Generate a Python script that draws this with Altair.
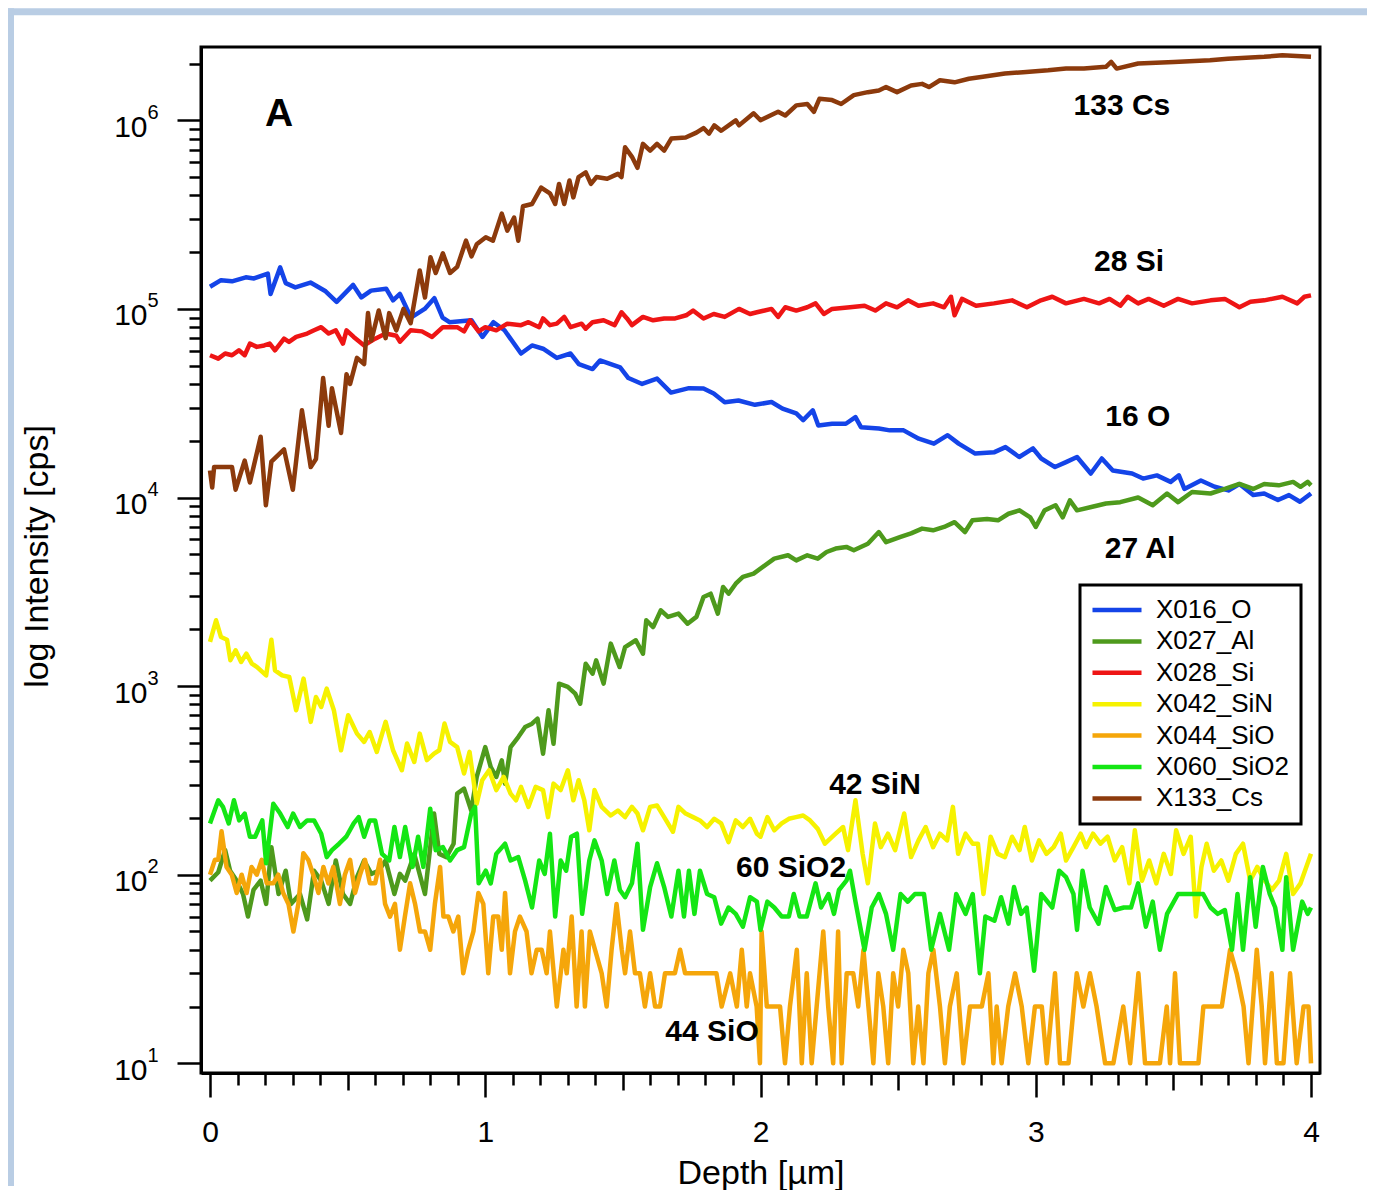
import altair as alt
import pandas as pd

FONT = "Liberation Sans, Arial, Helvetica, sans-serif"
BLUE_FRAME = "#b9cde4"

SERIES_NAMES = ["X016_O", "X027_Al", "X028_Si", "X042_SiN", "X044_SiO", "X060_SiO2", "X133_Cs"]
SERIES_COLORS = ["#1444e8", "#4e9a1c", "#ee1515", "#f6f200", "#f5a60a", "#14e614", "#8c3a0c"]

# (depth [um], intensity [cps])
O_16 = [(0.000, 131000), (0.040, 142000), (0.080, 140000), (0.130, 147000), (0.160, 145000), (0.210, 154000),
        (0.220, 120000), (0.255, 166000), (0.275, 137000), (0.310, 130000), (0.365, 138000), (0.420, 124000),
        (0.460, 109000), (0.520, 134000), (0.550, 115000), (0.585, 125000), (0.640, 128000), (0.665, 111000),
        (0.690, 120000), (0.730, 90000), (0.780, 100000), (0.815, 114000), (0.845, 90000), (0.870, 85000),
        (0.950, 87000), (0.990, 71000), (1.030, 85000), (1.070, 77000), (1.130, 58000), (1.170, 64000),
        (1.210, 61500), (1.260, 55000), (1.310, 58000), (1.340, 51000), (1.390, 48000), (1.417, 53300),
        (1.490, 49000), (1.520, 43000), (1.570, 40000), (1.624, 42700), (1.675, 36000), (1.740, 38000),
        (1.793, 37800), (1.830, 35600), (1.870, 32000), (1.920, 32700), (1.980, 31000), (2.040, 32100),
        (2.080, 29600), (2.130, 27900), (2.155, 25700), (2.190, 29000), (2.210, 24100), (2.260, 24600),
        (2.310, 24600), (2.345, 26700), (2.365, 23600), (2.430, 23200), (2.470, 22700), (2.520, 22700),
        (2.575, 20500), (2.630, 19300), (2.680, 21400), (2.720, 19300), (2.780, 17100), (2.850, 17400),
        (2.890, 18500), (2.940, 16400), (2.990, 18200), (3.020, 16100), (3.070, 14500), (3.110, 15400),
        (3.150, 16400), (3.200, 13400), (3.240, 16100), (3.280, 13900), (3.350, 13400), (3.390, 12600),
        (3.440, 13100), (3.490, 12100), (3.520, 13100), (3.540, 11100), (3.600, 12300), (3.650, 11400),
        (3.700, 10900), (3.740, 11800), (3.790, 10300), (3.830, 10500), (3.880, 9700), (3.920, 10300),
        (3.960, 9500), (4.000, 10500)]

AL_27 = [(0.000, 93), (0.030, 103), (0.055, 135), (0.073, 105), (0.093, 95), (0.120, 79), (0.138, 60),
         (0.158, 83), (0.184, 93), (0.204, 70), (0.223, 140), (0.249, 79), (0.275, 105), (0.294, 70),
         (0.327, 79), (0.353, 58), (0.378, 105), (0.404, 93), (0.431, 70), (0.457, 119), (0.483, 79),
         (0.509, 70), (0.534, 97), (0.560, 119), (0.586, 101), (0.613, 105), (0.638, 119), (0.670, 79),
         (0.690, 101), (0.709, 93), (0.742, 129), (0.781, 79), (0.814, 211), (0.833, 129), (0.859, 124),
         (0.885, 146), (0.898, 269), (0.923, 286), (0.949, 219), (0.969, 330), (1.000, 475), (1.020, 372),
         (1.040, 330), (1.060, 404), (1.072, 304), (1.092, 475), (1.120, 537), (1.145, 607), (1.170, 632),
         (1.190, 672), (1.210, 438), (1.230, 744), (1.248, 495), (1.268, 1030), (1.300, 990), (1.327, 912),
         (1.345, 807), (1.365, 1315), (1.390, 1164), (1.403, 1370), (1.430, 1030), (1.456, 1680),
         (1.488, 1262), (1.508, 1610), (1.547, 1750), (1.573, 1485), (1.585, 2235), (1.610, 2057),
         (1.638, 2523), (1.664, 2328), (1.702, 2423), (1.735, 2143), (1.767, 2328), (1.793, 2970),
         (1.819, 3090), (1.845, 2423), (1.864, 3356), (1.884, 3090), (1.910, 3490), (1.936, 3790),
         (1.975, 3950), (2.050, 4740), (2.100, 4940), (2.130, 4640), (2.170, 4940), (2.208, 4740),
         (2.240, 5140), (2.273, 5360), (2.312, 5470), (2.339, 5250), (2.390, 5690), (2.430, 6560),
         (2.456, 5800), (2.509, 6180), (2.547, 6450), (2.587, 6840), (2.627, 6700), (2.667, 6980),
         (2.705, 7400), (2.743, 6560), (2.770, 7570), (2.823, 7700), (2.863, 7570), (2.901, 8200),
         (2.941, 8550), (2.980, 7850), (3.000, 6980), (3.032, 8550), (3.072, 9100), (3.098, 7850),
         (3.124, 9660), (3.150, 8550), (3.202, 8900), (3.255, 9300), (3.307, 9450), (3.372, 10000),
         (3.425, 9100), (3.477, 10500), (3.517, 9450), (3.568, 10700), (3.635, 10500), (3.687, 11100),
         (3.740, 11800), (3.790, 11100), (3.830, 11800), (3.883, 11600), (3.935, 12100), (3.962, 11400),
         (3.988, 12100), (4.000, 11600)]

SI_28 = [(0.000, 56800), (0.030, 54500), (0.055, 58000), (0.080, 56800), (0.105, 60300), (0.126, 56800),
         (0.145, 65500), (0.170, 62900), (0.197, 64000), (0.217, 65500), (0.236, 60300), (0.269, 69500),
         (0.287, 66800), (0.313, 71000), (0.353, 74000), (0.378, 77000), (0.404, 80000), (0.431, 74000),
         (0.457, 77000), (0.483, 65500), (0.496, 77000), (0.522, 71000), (0.560, 64000), (0.600, 69500),
         (0.638, 74000), (0.677, 72000), (0.690, 67000), (0.729, 77000), (0.770, 76000), (0.807, 71000),
         (0.846, 80000), (0.898, 80000), (0.923, 76000), (0.945, 87000), (0.976, 76000), (1.000, 80000),
         (1.040, 77000), (1.080, 83500), (1.130, 82000), (1.157, 85000), (1.196, 80000), (1.210, 89000),
         (1.235, 82000), (1.260, 83500), (1.287, 90700), (1.310, 80000), (1.350, 83500), (1.365, 78500),
         (1.390, 85000), (1.430, 87000), (1.470, 82000), (1.495, 96000), (1.515, 89000), (1.533, 82000),
         (1.573, 90700), (1.610, 87000), (1.650, 89000), (1.690, 89000), (1.730, 92500), (1.755, 98000),
         (1.793, 89000), (1.830, 94000), (1.870, 90700), (1.922, 100000), (1.962, 94000), (1.987, 96000),
         (2.040, 100000), (2.064, 90700), (2.090, 102000), (2.130, 98000), (2.170, 102000), (2.200, 107000),
         (2.230, 94000), (2.260, 100000), (2.325, 102000), (2.378, 104000), (2.417, 98000), (2.456, 107000),
         (2.496, 102000), (2.536, 111000), (2.574, 104000), (2.627, 107000), (2.667, 102000), (2.692, 116000),
         (2.705, 92500), (2.732, 113000), (2.783, 104000), (2.848, 107000), (2.914, 111000), (2.968, 102000),
         (3.019, 111000), (3.060, 116000), (3.110, 107000), (3.175, 113000), (3.230, 107000), (3.268, 113000),
         (3.307, 104000), (3.334, 116000), (3.372, 107000), (3.410, 113000), (3.465, 104000), (3.517, 113000),
         (3.568, 107000), (3.635, 111000), (3.687, 113000), (3.740, 102000), (3.780, 109000), (3.830, 111000),
         (3.896, 116000), (3.950, 107000), (3.976, 116000), (4.000, 118000)]

SIN_42 = [(0.000, 1714), (0.022, 2234), (0.040, 1820), (0.062, 1760), (0.074, 1371), (0.093, 1549),
          (0.113, 1343), (0.132, 1486), (0.152, 1316), (0.171, 1262), (0.204, 1140), (0.223, 1760),
          (0.236, 1213), (0.262, 1140), (0.288, 1117), (0.313, 745), (0.340, 1096), (0.366, 646),
          (0.385, 875), (0.404, 775), (0.424, 970), (0.450, 745), (0.476, 457), (0.502, 700), (0.534, 560),
          (0.560, 506), (0.580, 571), (0.606, 448), (0.638, 646), (0.665, 457), (0.697, 358), (0.716, 496),
          (0.742, 396), (0.762, 560), (0.788, 405), (0.814, 439), (0.833, 457), (0.852, 633), (0.872, 506),
          (0.898, 475), (0.923, 344), (0.943, 448), (0.969, 238), (0.989, 317), (1.014, 358), (1.040, 281),
          (1.067, 330), (1.092, 269), (1.112, 248), (1.130, 292), (1.157, 229), (1.183, 292), (1.210, 281),
          (1.228, 202), (1.248, 304), (1.274, 281), (1.300, 358), (1.320, 248), (1.339, 317), (1.360, 248),
          (1.378, 172), (1.397, 281), (1.423, 229), (1.456, 206), (1.482, 219), (1.508, 202), (1.533, 229),
          (1.553, 211), (1.573, 172), (1.599, 229), (1.624, 233), (1.650, 202), (1.682, 169), (1.702, 229),
          (1.728, 211), (1.755, 202), (1.780, 194), (1.806, 179), (1.832, 198), (1.857, 187), (1.884, 149),
          (1.910, 194), (1.936, 179), (1.962, 198), (1.987, 165), (2.000, 159), (2.025, 202), (2.050, 172),
          (2.077, 187), (2.103, 198), (2.129, 202), (2.155, 206), (2.180, 194), (2.208, 175), (2.234, 146),
          (2.273, 165), (2.300, 179), (2.318, 135), (2.345, 248), (2.371, 129), (2.390, 90), (2.416, 187),
          (2.437, 140), (2.463, 165), (2.489, 135), (2.522, 211), (2.547, 124), (2.574, 152), (2.600, 179),
          (2.627, 140), (2.652, 165), (2.678, 152), (2.699, 229), (2.718, 129), (2.745, 165), (2.771, 146),
          (2.790, 146), (2.810, 79), (2.836, 159), (2.862, 129), (2.888, 124), (2.914, 159), (2.941, 135),
          (2.960, 179), (2.986, 119), (3.012, 152), (3.039, 129), (3.065, 140), (3.091, 165), (3.110, 119),
          (3.137, 140), (3.163, 165), (3.183, 140), (3.208, 165), (3.235, 146), (3.261, 159), (3.287, 119),
          (3.314, 140), (3.340, 90), (3.360, 172), (3.386, 93), (3.412, 119), (3.438, 90), (3.465, 129),
          (3.491, 101), (3.510, 172), (3.537, 129), (3.563, 159), (3.582, 60), (3.602, 110), (3.621, 146),
          (3.647, 105), (3.674, 119), (3.700, 93), (3.727, 129), (3.753, 146), (3.779, 93), (3.805, 110),
          (3.832, 93), (3.858, 83), (3.884, 93), (3.910, 129), (3.935, 79), (3.962, 90), (4.000, 129)]

SIO_44 = [(0.000, 100), (0.018, 120), (0.030, 120), (0.042, 170), (0.060, 110), (0.079, 100), (0.097, 80),
          (0.115, 100), (0.133, 80), (0.151, 110), (0.170, 100), (0.188, 120), (0.206, 90), (0.230, 90),
          (0.248, 100), (0.266, 80), (0.285, 70), (0.303, 50), (0.321, 70), (0.339, 130), (0.357, 120),
          (0.375, 100), (0.394, 80), (0.412, 110), (0.430, 90), (0.448, 110), (0.472, 70), (0.490, 100),
          (0.509, 120), (0.527, 80), (0.545, 100), (0.563, 120), (0.581, 90), (0.600, 90), (0.618, 120),
          (0.636, 70), (0.654, 60), (0.672, 70), (0.690, 40), (0.708, 60), (0.727, 90), (0.745, 70),
          (0.763, 50), (0.781, 50), (0.800, 40), (0.817, 70), (0.836, 110), (0.848, 60), (0.866, 60),
          (0.884, 50), (0.902, 60), (0.920, 30), (0.938, 40), (0.957, 50), (0.975, 80), (0.993, 70),
          (1.011, 30), (1.029, 60), (1.047, 60), (1.060, 40), (1.072, 80), (1.090, 30), (1.108, 50),
          (1.126, 60), (1.150, 50), (1.168, 30), (1.187, 40), (1.205, 40), (1.223, 30), (1.235, 50),
          (1.260, 20), (1.284, 40), (1.296, 30), (1.314, 60), (1.332, 20), (1.350, 50), (1.362, 20),
          (1.380, 50), (1.399, 40), (1.423, 30), (1.441, 20), (1.459, 40), (1.477, 70), (1.496, 40),
          (1.508, 30), (1.526, 50), (1.544, 30), (1.562, 30), (1.580, 20), (1.599, 30), (1.617, 20),
          (1.635, 20), (1.653, 30), (1.689, 30), (1.708, 40), (1.726, 30), (1.768, 30), (1.840, 30),
          (1.859, 20), (1.890, 30), (1.914, 20), (1.932, 40), (1.950, 20), (1.962, 30), (1.986, 20),
          (1.998, 10), (2.004, 50), (2.023, 20), (2.047, 20), (2.071, 20), (2.089, 10), (2.107, 20),
          (2.132, 40), (2.150, 10), (2.168, 30), (2.186, 10), (2.204, 20), (2.228, 50), (2.246, 20),
          (2.264, 10), (2.282, 50), (2.295, 10), (2.313, 30), (2.337, 30), (2.355, 20), (2.374, 40),
          (2.392, 20), (2.410, 10), (2.428, 30), (2.446, 20), (2.464, 10), (2.482, 30), (2.500, 20),
          (2.519, 40), (2.537, 30), (2.555, 10), (2.573, 20), (2.592, 10), (2.610, 30), (2.628, 40),
          (2.652, 20), (2.670, 10), (2.688, 20), (2.713, 30), (2.737, 10), (2.761, 20), (2.804, 20),
          (2.828, 30), (2.846, 10), (2.858, 20), (2.876, 10), (2.900, 20), (2.925, 30), (2.949, 20),
          (2.973, 10), (2.997, 20), (3.022, 20), (3.040, 10), (3.070, 30), (3.088, 10), (3.119, 10),
          (3.149, 30), (3.173, 20), (3.197, 30), (3.221, 20), (3.252, 10), (3.282, 10), (3.318, 20),
          (3.343, 10), (3.373, 30), (3.397, 10), (3.451, 10), (3.476, 20), (3.488, 10), (3.506, 30),
          (3.524, 10), (3.549, 10), (3.591, 10), (3.609, 20), (3.645, 20), (3.676, 20), (3.706, 40),
          (3.730, 30), (3.755, 20), (3.773, 10), (3.803, 40), (3.821, 20), (3.833, 10), (3.857, 30),
          (3.876, 10), (3.900, 10), (3.924, 30), (3.948, 10), (3.973, 20), (3.991, 20), (4.000, 10)]

SIO2_60 = [(0.000, 187), (0.030, 248), (0.047, 229), (0.068, 187), (0.087, 248), (0.106, 194), (0.126, 211),
           (0.145, 159), (0.164, 159), (0.190, 194), (0.204, 115), (0.230, 238), (0.255, 211), (0.282, 179),
           (0.302, 211), (0.327, 179), (0.353, 194), (0.378, 194), (0.404, 165), (0.424, 124), (0.443, 135),
           (0.469, 146), (0.495, 159), (0.522, 187), (0.540, 202), (0.560, 159), (0.580, 194), (0.600, 194),
           (0.625, 129), (0.651, 119), (0.670, 179), (0.690, 124), (0.709, 179), (0.736, 110), (0.756, 159),
           (0.775, 110), (0.800, 224), (0.820, 135), (0.846, 140), (0.872, 119), (0.898, 135), (0.923, 140),
           (0.949, 211), (0.963, 229), (0.976, 90), (1.002, 105), (1.020, 90), (1.040, 129), (1.072, 146),
           (1.092, 119), (1.120, 124), (1.145, 93), (1.170, 67), (1.196, 119), (1.216, 101), (1.235, 165),
           (1.254, 60), (1.274, 119), (1.294, 105), (1.312, 159), (1.333, 165), (1.352, 62), (1.378, 119),
           (1.397, 152), (1.423, 119), (1.443, 79), (1.469, 119), (1.489, 83), (1.508, 76), (1.533, 90),
           (1.553, 146), (1.573, 51), (1.599, 86), (1.624, 115), (1.650, 86), (1.676, 60), (1.702, 105),
           (1.722, 60), (1.740, 105), (1.760, 62), (1.780, 105), (1.806, 79), (1.832, 76), (1.857, 55),
           (1.884, 67), (1.910, 62), (1.936, 53), (1.962, 76), (1.987, 72), (2.000, 51), (2.025, 72),
           (2.050, 67), (2.077, 60), (2.103, 60), (2.121, 79), (2.142, 60), (2.168, 60), (2.200, 90),
           (2.220, 67), (2.247, 79), (2.267, 62), (2.285, 83), (2.312, 93), (2.325, 105), (2.345, 72),
           (2.378, 40), (2.404, 67), (2.430, 79), (2.456, 62), (2.482, 40), (2.509, 79), (2.535, 72),
           (2.561, 79), (2.594, 79), (2.620, 40), (2.652, 62), (2.685, 40), (2.711, 79), (2.745, 62),
           (2.771, 79), (2.797, 30), (2.817, 60), (2.850, 57), (2.874, 76), (2.901, 55), (2.921, 86),
           (2.947, 62), (2.967, 67), (2.994, 31), (3.020, 79), (3.060, 67), (3.085, 105), (3.110, 97),
           (3.137, 79), (3.150, 51), (3.170, 105), (3.196, 67), (3.228, 55), (3.255, 86), (3.287, 65),
           (3.320, 67), (3.346, 67), (3.372, 90), (3.400, 53), (3.425, 72), (3.451, 40), (3.477, 62),
           (3.517, 79), (3.568, 79), (3.608, 79), (3.635, 67), (3.661, 62), (3.687, 65), (3.713, 40),
           (3.733, 79), (3.753, 40), (3.779, 97), (3.799, 53), (3.825, 110), (3.850, 79), (3.870, 67),
           (3.896, 40), (3.910, 97), (3.935, 40), (3.968, 72), (3.988, 62), (4.000, 67)]

CS_133 = [(0.000, 13900), (0.008, 11300), (0.015, 14500), (0.050, 14500), (0.080, 14500), (0.093, 11000),
          (0.126, 15700), (0.145, 12000), (0.184, 21000), (0.203, 9100), (0.223, 15500), (0.269, 18000),
          (0.301, 11000), (0.334, 29000), (0.366, 14500), (0.385, 16000), (0.411, 43000), (0.431, 24000),
          (0.443, 38000), (0.476, 22000), (0.496, 45000), (0.509, 40000), (0.534, 55000), (0.560, 51000),
          (0.574, 95000), (0.586, 68000), (0.613, 98000), (0.638, 70000), (0.651, 95000), (0.677, 77000),
          (0.703, 100000), (0.729, 84000), (0.762, 160000), (0.781, 115000), (0.801, 188000), (0.820, 155000),
          (0.846, 197000), (0.872, 155000), (0.898, 167000), (0.930, 230000), (0.950, 190000), (0.969, 220000),
          (1.002, 240000), (1.028, 230000), (1.060, 320000), (1.080, 260000), (1.105, 305000), (1.120, 230000),
          (1.137, 350000), (1.170, 360000), (1.203, 440000), (1.235, 410000), (1.254, 360000), (1.268, 460000),
          (1.287, 360000), (1.306, 480000), (1.320, 390000), (1.339, 500000), (1.365, 530000), (1.384, 460000),
          (1.404, 500000), (1.443, 490000), (1.482, 520000), (1.495, 500000), (1.508, 720000), (1.533, 640000),
          (1.553, 560000), (1.573, 750000), (1.599, 690000), (1.624, 750000), (1.650, 690000), (1.676, 800000),
          (1.728, 810000), (1.767, 860000), (1.793, 910000), (1.813, 850000), (1.832, 940000), (1.857, 880000),
          (1.910, 1000000), (1.922, 940000), (1.975, 1090000), (2.000, 1000000), (2.064, 1110000),
          (2.090, 1060000), (2.130, 1200000), (2.170, 1220000), (2.194, 1110000), (2.214, 1300000),
          (2.260, 1280000), (2.293, 1220000), (2.339, 1360000), (2.390, 1410000), (2.430, 1440000),
          (2.456, 1500000), (2.496, 1410000), (2.547, 1530000), (2.587, 1560000), (2.612, 1500000),
          (2.652, 1630000), (2.705, 1590000), (2.757, 1660000), (2.808, 1700000), (2.888, 1770000),
          (2.954, 1800000), (3.045, 1840000), (3.110, 1880000), (3.175, 1880000), (3.255, 1920000),
          (3.274, 2040000), (3.294, 1880000), (3.372, 2000000), (3.502, 2040000), (3.633, 2080000),
          (3.698, 2120000), (3.830, 2170000), (3.896, 2210000), (4.000, 2170000)]

PROFILES = [O_16, AL_27, SI_28, SIN_42, SIO_44, SIO2_60, CS_133]

ANNOT_TEXT = ["A", "133 Cs", "28 Si", "16 O", "27 Al", "42 SiN", "60 SiO2", "44 SiO"]
ANNOT_DEPTH = [0.251, 3.313, 3.339, 3.371, 3.379, 2.416, 2.111, 1.824]
ANNOT_CPS = [1.08e6, 1.19e6, 1.77e5, 2.66e4, 5.31e3, 298, 108, 14.6]
ANNOT_SIZE = [39, 30, 30, 30, 30, 30, 30, 30]

X_TICKS = [round(i * 0.1, 1) for i in range(41)]
Y_TICKS = [k * 10 ** n for n in range(1, 7) for k in range(1, 10) if k * 10 ** n <= 2.4e6]
DECADES = [10, 100, 1000, 10000, 100000, 1000000]

X_DOMAIN = [-0.0327, 4.0327]
Y_DOMAIN = [8.885, 2.447e6]

rows = []
for name, prof in zip(SERIES_NAMES, PROFILES):
    for d, v in prof:
        rows.append({"series": name, "depth": d, "cps": v})
df = pd.DataFrame(rows)

ann_df = pd.DataFrame({"label": ANNOT_TEXT, "depth": ANNOT_DEPTH, "cps": ANNOT_CPS, "fs": ANNOT_SIZE})
one = pd.DataFrame({"k": [0]})

IS_INT = "abs(datum.value - round(datum.value)) < 0.000001"
IS_HALF = "abs(datum.value * 2 - round(datum.value * 2)) < 0.000001"
IS_DEC = "abs(log(datum.value) / LN10 - round(log(datum.value) / LN10)) < 0.000001"

x_scale = alt.Scale(domain=X_DOMAIN, nice=False, zero=False)
y_scale = alt.Scale(type="log", domain=Y_DOMAIN, nice=False)

x_axis = alt.Axis(
    values=X_TICKS, title="Depth [µm]", grid=False, zindex=1,
    tickSize={"condition": [{"test": IS_INT, "value": 24}, {"test": IS_HALF, "value": 17}], "value": 12},
    tickColor="black", tickWidth=2.5, domainColor="black", domainWidth=3,
    labelExpr=f"{IS_INT} ? format(datum.value, 'd') : ''",
    labelFont=FONT, labelFontSize=30, labelColor="black", labelPadding=20,
    labelFlush=False, labelOverlap=False,
    titleFont=FONT, titleFontSize=34, titleFontWeight="normal", titleColor="black",
    titleY=100, titleBaseline="middle",
)

y_axis = alt.Axis(
    values=Y_TICKS, orient="left", title="log Intensity [cps]", grid=False, zindex=1,
    tickSize={"condition": {"test": IS_DEC, "value": 24}, "value": 12},
    tickColor="black", tickWidth=2.5, domainColor="black", domainWidth=3,
    labelExpr=f"{IS_DEC} ? '10' : ''",
    labelFont=FONT, labelFontSize=30, labelColor="black", labelPadding=30, labelOffset=7,
    labelOverlap=False,
    titleFont=FONT, titleFontSize=34, titleFontWeight="normal", titleColor="black",
    titleX=-164, titleY=509, titleAngle=270, titleAlign="center", titleBaseline="middle",
)

exp_axis = alt.Axis(
    values=DECADES, orient="left", title="", grid=False, domain=False, zindex=1,
    tickSize=24, tickOpacity=0,
    labelExpr="format(round(log(datum.value) / LN10), 'd')",
    labelFont=FONT, labelFontSize=20, labelColor="black", labelPadding=19, labelOffset=-8,
    labelOverlap=False,
)

legend = alt.Legend(
    title=None, orient="none", legendX=879, legendY=538, zindex=1,
    symbolType="M-3,0L3,0", symbolSize=267, symbolStrokeWidth=4.5, symbolOffset=12,
    labelFont=FONT, labelFontSize=26, labelColor="black", labelOffset=26, labelLimit=300,
    strokeColor="black", fillColor="white", padding=12, rowPadding=5.4,
)

# thicker legend border if the installed schema knows the option
LEGEND_CFG = {}
try:
    alt.LegendConfig(strokeWidth=3).to_dict()
    LEGEND_CFG = {"strokeWidth": 3}
except Exception:
    LEGEND_CFG = {}

strip_left = alt.Chart(one).mark_rect(color=BLUE_FRAME).encode(
    x=alt.value(-193), x2=alt.value(-187), y=alt.value(-38.7), y2=alt.value(1139))
strip_top = alt.Chart(one).mark_rect(color=BLUE_FRAME).encode(
    x=alt.value(-193), x2=alt.value(1166), y=alt.value(-38.7), y2=alt.value(-31.7))

lines = alt.Chart(df).mark_line(strokeWidth=4.5, strokeJoin="round").encode(
    x=alt.X("depth:Q", scale=x_scale, axis=x_axis),
    y=alt.Y("cps:Q", scale=y_scale, axis=y_axis),
    color=alt.Color("series:N", scale=alt.Scale(domain=SERIES_NAMES, range=SERIES_COLORS), legend=legend),
    detail="series:N",
)

ann = alt.Chart(ann_df).mark_text(font=FONT, fontWeight="bold", color="black").encode(
    x=alt.X("depth:Q", scale=x_scale, axis=x_axis),
    y=alt.Y("cps:Q", scale=y_scale, axis=exp_axis),
    text="label:N",
    size=alt.Size("fs:Q", scale=None),
)

chart = (
    alt.layer(strip_left, strip_top, lines, ann)
    .resolve_scale(y="independent")
    .properties(width=1119, height=1026, background="white", padding=0)
    .configure_view(stroke="black", strokeWidth=3)
)
if LEGEND_CFG:
    chart = chart.configure_legend(**LEGEND_CFG)

chart.save("out.html", embed_options={"renderer": "svg", "actions": False})
